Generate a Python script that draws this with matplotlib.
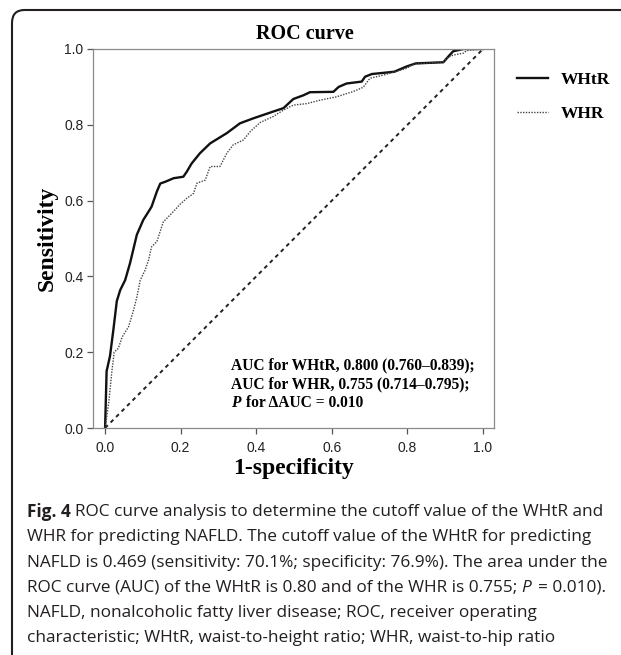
import matplotlib
matplotlib.use("Agg")
import matplotlib.pyplot as plt
from matplotlib.patches import FancyBboxPatch

# ROC points (1-specificity, sensitivity)
whtr_fpr = [0.0, 0.004, 0.013, 0.022, 0.031, 0.040, 0.053, 0.066, 0.084, 0.101,
            0.115, 0.123, 0.137, 0.146, 0.160, 0.181, 0.207, 0.216, 0.229, 0.251,
            0.278, 0.322, 0.357, 0.392, 0.445, 0.472, 0.498, 0.525, 0.542, 0.604,
            0.618, 0.639, 0.679, 0.688, 0.706, 0.765, 0.798, 0.822, 0.895, 0.908,
            0.921, 0.948, 1.0]
whtr_tpr = [0.0, 0.150, 0.190, 0.260, 0.335, 0.364, 0.390, 0.435, 0.510, 0.549,
            0.571, 0.584, 0.624, 0.645, 0.650, 0.659, 0.663, 0.676, 0.698, 0.725,
            0.751, 0.778, 0.804, 0.817, 0.835, 0.844, 0.868, 0.878, 0.886, 0.887,
            0.900, 0.909, 0.914, 0.927, 0.934, 0.940, 0.954, 0.962, 0.965, 0.980,
            0.994, 1.0, 1.0]

whr_fpr = [0.0, 0.010, 0.018, 0.024, 0.035, 0.045, 0.062, 0.075, 0.084, 0.093,
           0.106, 0.115, 0.123, 0.137, 0.154, 0.176, 0.198, 0.216, 0.234, 0.243,
           0.265, 0.278, 0.304, 0.322, 0.339, 0.366, 0.384, 0.410, 0.445, 0.472,
           0.498, 0.534, 0.569, 0.613, 0.657, 0.683, 0.701, 0.736, 0.798, 0.815,
           0.895, 0.904, 0.921, 0.948, 0.957, 1.0]
whr_tpr = [0.0, 0.070, 0.150, 0.200, 0.210, 0.240, 0.267, 0.310, 0.345, 0.390,
           0.417, 0.443, 0.478, 0.492, 0.544, 0.566, 0.590, 0.606, 0.619, 0.646,
           0.654, 0.690, 0.690, 0.725, 0.747, 0.760, 0.782, 0.806, 0.822, 0.839,
           0.852, 0.856, 0.865, 0.874, 0.888, 0.899, 0.923, 0.931, 0.949, 0.960,
           0.966, 0.976, 0.984, 0.989, 0.996, 1.0]

ref_line = [0.0, 1.0]
ticks = [0.0, 0.2, 0.4, 0.6, 0.8, 1.0]
tick_labels = ["0.0", "0.2", "0.4", "0.6", "0.8", "1.0"]

auc_lines = ["AUC for WHtR, 0.800 (0.760\u20130.839);",
             "AUC for WHR, 0.755 (0.714\u20130.795);"]

caption = [
    [("Fig. 4", "bold"), ("ROC curve analysis to determine the cutoff value of the WHtR and", "normal")],
    [("WHR for predicting NAFLD. The cutoff value of the WHtR for predicting", "normal")],
    [("NAFLD is 0.469 (sensitivity: 70.1%; specificity: 76.9%). The area under the", "normal")],
    [("ROC curve (AUC) of the WHtR is 0.80 and of the WHR is 0.755;", "normal"), ("P", "italic"), ("= 0.010).", "normal")],
    [("NAFLD, nonalcoholic fatty liver disease; ROC, receiver operating", "normal")],
    [("characteristic; WHtR, waist-to-height ratio; WHR, waist-to-hip ratio", "normal")],
]

W, H = 621, 655
fig = plt.figure(figsize=(W / 100, H / 100), dpi=100)
ax = fig.add_axes([93 / W, 1 - 428 / H, 401 / W, 379 / H])

serif = "Liberation Serif"
sans = "Liberation Sans"

ax.plot(whtr_fpr, whtr_tpr, color="#111111", lw=1.7, label="WHtR")
ax.plot(whr_fpr, whr_tpr, color="#444444", lw=1.0, linestyle=(0, (1, 1)), label="WHR")
ax.plot(ref_line, ref_line, color="#222222", lw=1.4, dashes=(2, 2))

ax.set_xlim(-0.032, 1.029)
ax.set_ylim(0, 1)
ax.set_xticks(ticks)
ax.set_xticklabels(tick_labels)
ax.set_yticks(ticks)
ax.set_yticklabels(tick_labels)
ax.tick_params(direction="out", length=4.3, width=0.9, color="#555555",
               labelsize=10, pad=2.5, labelcolor="#222222")
ax.tick_params(axis="x", pad=5)
for lab in ax.get_xticklabels() + ax.get_yticklabels():
    lab.set_family(sans)
for sp in ax.spines.values():
    sp.set_color("#8a8a8a")
    sp.set_linewidth(0.9)

ax.set_xlabel("1-specificity", family=serif, fontweight="bold", fontsize=17, labelpad=2)
ax.set_ylabel("Sensitivity", family=serif, fontweight="bold", fontsize=17, labelpad=5)
fig.text(305 / W, 1 - 34 / H, "ROC curve", family=serif, fontweight="bold",
         fontsize=14.5, ha="center", va="center")

for i, s in enumerate(auc_lines):
    ax.text(0.333, 0.164 - i * 0.049, s, family=serif, fontweight="bold",
            fontsize=11.2, va="center", ha="left")
p = ax.text(0.333, 0.164 - 2 * 0.049, "P", family=serif, fontweight="bold",
            style="italic", fontsize=11.2, va="center", ha="left")

leg = ax.legend(loc="upper left", bbox_to_anchor=(517 / W, 1 - 72 / H),
                bbox_transform=fig.transFigure, frameon=False, borderpad=0,
                borderaxespad=0, handlelength=1.8, handletextpad=0.7,
                labelspacing=1.0, prop={"family": serif, "weight": "bold", "size": 12.5})

# outer frame of the figure panel
frame = FancyBboxPatch((12 / W, -0.1), 1.2, 1 - 10 / H + 0.1,
                       boxstyle="round,pad=0,rounding_size=0.02",
                       transform=fig.transFigure, fill=False,
                       edgecolor="#231f20", lw=1.5)
fig.add_artist(frame)

fig.canvas.draw()
r = fig.canvas.get_renderer()

# finish the third AUC line after the italic P
bb = p.get_window_extent(r)
inv = ax.transData.inverted()
x_after = inv.transform((bb.x1 + 6, 0))[0]
ax.text(x_after, 0.164 - 2 * 0.049, "for \u0394AUC = 0.010", family=serif,
        fontweight="bold", fontsize=11.2, va="center", ha="left")

cap_font = "Open Sans"
cap_size = 12.4
probe1 = fig.text(0, 0, "a a", family=cap_font, fontsize=cap_size)
probe2 = fig.text(0, 0, "aa", family=cap_font, fontsize=cap_size)
gap = probe1.get_window_extent(r).width - probe2.get_window_extent(r).width
probe1.remove()
probe2.remove()

for k, parts in enumerate(caption):
    y = 1 - (512 + k * 25.3) / H
    x = 27
    for s, st in parts:
        kw = {"family": cap_font, "fontsize": cap_size, "color": "#231f20"}
        if st == "bold":
            kw["fontweight"] = "bold"
        if st == "italic":
            kw["style"] = "italic"
        t = fig.text(x / W, y, s, va="center", ha="left", **kw)
        x = t.get_window_extent(r).x1 + gap
        if st == "italic":
            x += 2

fig.savefig("out.png", dpi=100)
